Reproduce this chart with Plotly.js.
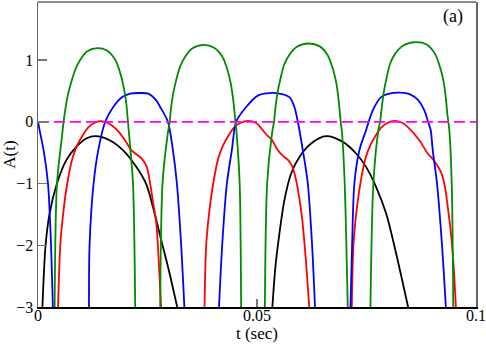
<!DOCTYPE html>
<html>
<head>
<meta charset="utf-8">
<script src="https://cdn.plot.ly/plotly-3.0.1.min.js"></script>
<style>
  html, body { margin: 0; padding: 0; background: #fff; }
  #plot { width: 486px; height: 344px; }
</style>
</head>
<body>
<div id="plot"></div>
<script>
// values, arches separated by null
const tGreen = [0.00379, 0.00433, 0.00548, 0.00584, 0.00623, 0.00675, 0.00753, 0.00851, 0.00965, 0.01118, 0.01346, 0.01574, 0.01764, 0.01878, 0.01953, 0.02015, 0.02053, 0.02083, 0.02168, 0.0222, null,
  0.0279, 0.02843, 0.02961, 0.03007, 0.03037, 0.03087, 0.03155, 0.03242, 0.03356, 0.03527, 0.03778, 0.04022, 0.04212, 0.04326, 0.04401, 0.04458, 0.04508, 0.04536, 0.04604, 0.04638, null,
  0.05179, 0.05232, 0.05346, 0.05389, 0.05421, 0.05471, 0.05537, 0.05615, 0.05729, 0.05912, 0.06174, 0.06425, 0.06616, 0.06731, 0.06806, 0.0686, 0.06911, 0.0694, 0.07002, 0.07073, null,
  0.07589, 0.07657, 0.07771, 0.0781, 0.07849, 0.07901, 0.07963, 0.08038, 0.08152, 0.08341, 0.08615, 0.08875, 0.09065, 0.09179, 0.09254, 0.09309, 0.09345, 0.09368, 0.09391, 0.09446, 0.09482]
const aGreen = [-3.05, -1.0, -0.234, 0, 0.197, 0.412, 0.627, 0.843, 1.005, 1.139, 1.192, 1.155, 1.005, 0.788, 0.574, 0.304, 0, -0.234, -1.0, -3.05, null,
  -3.05, -1.0, -0.2, 0, 0.22, 0.46, 0.675, 0.89, 1.05, 1.19, 1.247, 1.2, 1.05, 0.84, 0.62, 0.35, 0, -0.2, -1.0, -3.05, null,
  -3.05, -1.0, -0.17, 0, 0.23, 0.48, 0.7, 0.915, 1.075, 1.215, 1.268, 1.225, 1.075, 0.86, 0.645, 0.375, 0, -0.17, -1.0, -3.05, null,
  -3.05, -1.0, -0.137, 0, 0.239, 0.509, 0.724, 0.94, 1.10, 1.236, 1.289, 1.252, 1.10, 0.885, 0.67, 0.40, 0.131, 0, -0.137, -1.0, -3.05]

const tBlue = [0, 0.00052, 0.00128, 0.00228, 0.00287, 0.00342, null,
  0.01164, 0.01177, 0.01269, 0.01376, 0.01535, 0.01718, 0.01923, 0.02106, 0.02334, 0.02517, 0.02699, 0.0279, 0.02966, 0.0308, 0.03171, 0.03269, 0.03345, null,
  0.0413, 0.04205, 0.04312, 0.04426, 0.04524, 0.04752, 0.05026, 0.05209, 0.05437, 0.0574, 0.05854, 0.05932, 0.06046, 0.0616, 0.06258, 0.06327, null,
  0.07132, 0.07171, 0.07223, 0.07338, 0.0749, 0.07643, 0.07833, 0.08022, 0.0825, 0.08495, 0.08684, 0.08837, 0.08905, 0.08966, 0.09012, 0.0911, 0.09224, 0.09316]
const aBlue = [0, -0.19, -0.46, -1.0, -1.806, -3.05, null,
  -3.05, -2.0, -1.0, -0.46, 0, 0.239, 0.40, 0.456, 0.466, 0.456, 0.347, 0.239, 0, -0.46, -1.0, -2.0, -3.05, null,
  -3.05, -2.0, -1.0, -0.46, 0, 0.239, 0.428, 0.46, 0.465, 0.40, 0.239, 0, -0.46, -1.0, -2.0, -3.05, null,
  -3.05, -2.0, -1.0, -0.46, -0.137, 0.186, 0.40, 0.456, 0.472, 0.444, 0.347, 0.157, 0, -0.137, -0.46, -1.0, -2.0, -3.05]

const tRed = [0.00456, 0.00509, 0.00589, 0.00668, 0.00783, 0.00897, 0.01011, 0.01148, 0.01285, 0.01421, 0.01597, 0.01809, 0.02015, 0.02129, 0.02243, 0.02368, 0.02482, 0.02562, 0.02637, 0.02699, 0.02756, 0.02813, null,
  0.03801, 0.0384, 0.0392, 0.04, 0.04114, 0.04228, 0.04342, 0.04479, 0.04616, 0.04791, 0.04981, 0.05209, 0.05346, 0.0546, 0.05597, 0.05711, 0.05802, 0.05893, 0.05962, 0.0603, 0.06087, 0.06133, 0.06197, null,
  0.07164, 0.07201, 0.0728, 0.0736, 0.07474, 0.07588, 0.07703, 0.0784, 0.07976, 0.08136, 0.08312, 0.08478, 0.08706, 0.08898, 0.08996, 0.09088, 0.09179, 0.0924, 0.09304, 0.09354, 0.09407, 0.09453, 0.09498, 0.09544]
const aRed = [-3.05, -2.0, -1.4, -1.0, -0.6, -0.38, -0.23, -0.09, -0.02, 0.01, -0.019, -0.137, -0.331, -0.46, -0.525, -0.598, -0.727, -1.01, -1.349, -1.626, -2.24, -3.05, null,
  -3.05, -2.0, -1.4, -1.0, -0.6, -0.38, -0.23, -0.09, -0.02, 0.016, -0.019, -0.202, -0.299, -0.444, -0.557, -0.622, -0.719, -0.945, -1.22, -1.559, -1.995, -2.4, -3.05, null,
  -3.05, -2.0, -1.4, -1.0, -0.6, -0.38, -0.23, -0.09, -0.02, 0.013, -0.016, -0.11, -0.299, -0.514, -0.59, -0.675, -0.784, -0.897, -1.107, -1.376, -1.672, -2.0, -2.431, -3.05]

const tBlack = [0.00098, 0.00173, 0.00265, 0.00433, 0.00646, 0.00874, 0.01102, 0.01314, 0.01634, 0.01939, 0.02243, 0.02471, 0.02631, 0.02813, 0.03003, 0.03194, null,
  0.05346, 0.05421, 0.05512, 0.05626, 0.05779, 0.05969, 0.06236, 0.06578, 0.06959, 0.07262, 0.0749, 0.07718, 0.07947, 0.08175, 0.08465]
const aBlack = [-3.05, -2.0, -1.483, -1.0, -0.622, -0.407, -0.271, -0.234, -0.299, -0.46, -0.73, -1.01, -1.397, -1.914, -2.452, -3.05, null,
  -3.05, -2.346, -1.806, -1.268, -0.837, -0.569, -0.352, -0.234, -0.326, -0.514, -0.73, -1.053, -1.483, -2.129, -3.05]

const tZero = [0, 0.1]
const aZero = [0, 0]

const xTicks = [0, 0.05, 0.1]
const xTickText = ['0', '0.05', '0.1']
const yTicks = [-3, -2, -1, 0, 1]

const serif = 'Liberation Serif, Times New Roman, serif'

function curve(x, y, color) {
    return {
        x: x, y: y,
        type: 'scatter', mode: 'lines',
        line: { color: color, width: 1.8, shape: 'spline', smoothing: 0.8 },
        connectgaps: false,
        hoverinfo: 'skip'
    }
}

const data = [
    curve(tBlack, aBlack, 'rgb(0,0,0)'),
    curve(tRed, aRed, 'rgb(255,0,0)'),
    curve(tBlue, aBlue, 'rgb(0,0,255)'),
    curve(tGreen, aGreen, 'rgb(0,139,0)'),
    {
        x: tZero, y: aZero, type: 'scatter', mode: 'lines',
        line: { color: 'rgb(255,0,255)', width: 1.8, dash: '11px,5px' },
        hoverinfo: 'skip'
    }
]

const layout = {
    width: 486, height: 344,
    margin: { l: 38, r: 10, t: 2, b: 37 },
    paper_bgcolor: '#fff', plot_bgcolor: '#fff',
    showlegend: false,
    font: { family: serif, size: 16, color: '#000' },
    xaxis: {
        range: [0, 0.1],
        tickvals: xTicks, ticktext: xTickText,
        ticks: 'inside', ticklen: 8, tickwidth: 1.5, tickcolor: '#777',
        ticklabelstandoff: -7,
        showgrid: false, zeroline: false,
        showline: true, linecolor: '#000', linewidth: 1.5,
        tickfont: { family: serif, size: 16 },
        title: { text: 't (sec)', font: { family: serif, size: 17 }, standoff: 4 }
    },
    yaxis: {
        range: [-3, 1.94],
        tickvals: yTicks,
        ticks: 'inside', ticklen: 9, tickwidth: 1.5, tickcolor: '#777',
        showgrid: false, zeroline: false,
        showline: true, mirror: true, linecolor: '#666', linewidth: 1.5,
        tickfont: { family: serif, size: 16 },
        title: { text: 'A(t)', font: { family: serif, size: 17 }, standoff: 6 }
    },
    shapes: [{
        type: 'line', xref: 'paper', yref: 'paper',
        x0: 0, x1: 1, y0: 1, y1: 1,
        line: { color: '#666', width: 1.5 }
    }],
    annotations: [{
        text: '(a)', xref: 'paper', yref: 'paper',
        x: 0.947, y: 0.952, xanchor: 'center', yanchor: 'middle',
        showarrow: false,
        font: { family: serif, size: 18 }
    }]
}

Plotly.newPlot('plot', data, layout, { displayModeBar: false, staticPlot: true })
</script>
</body>
</html>
